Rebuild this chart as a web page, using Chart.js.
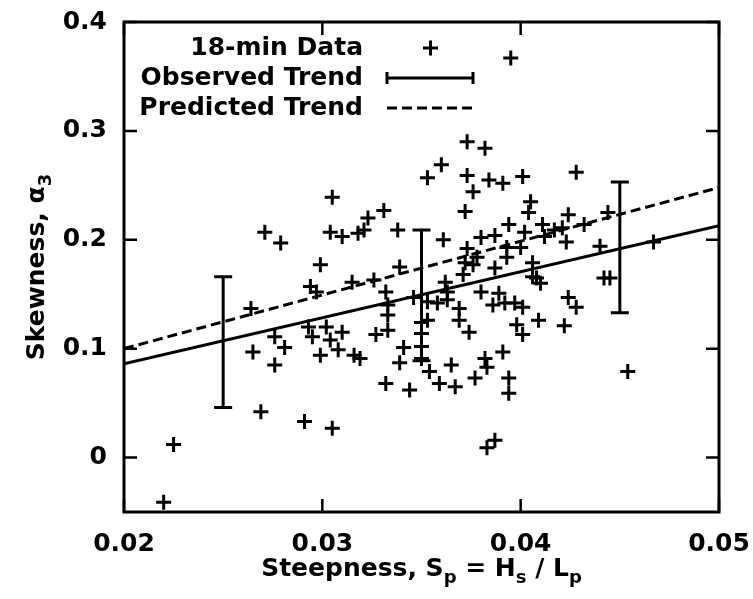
<!DOCTYPE html>
<html>
<head>
<meta charset="utf-8">
<script src="https://cdn.jsdelivr.net/npm/chart.js@4.4.0/dist/chart.umd.min.js"></script>
<style>
  html, body { margin: 0; padding: 0; background: #fff; }
  #grafico { display: block; }
</style>
</head>
<body>
<canvas id="grafico" width="753" height="599"></canvas>
<script>
// 18-min data (steepness Sp, skewness a3)
const steepness = [
  0.0395, 0.0373, 0.0382, 0.0360, 0.0353, 0.0373, 0.0384, 0.0391, 0.0401, 0.0428,
  0.0376, 0.0305, 0.0331, 0.0323, 0.0372, 0.0405, 0.0404, 0.0271, 0.0279, 0.0304,
  0.0310, 0.0321, 0.0338, 0.0361, 0.0394, 0.0387, 0.0380, 0.0402, 0.0411, 0.0412,
  0.0417, 0.0424, 0.0421, 0.0423, 0.0432, 0.0444, 0.0440, 0.0467, 0.0373, 0.0378,
  0.0372, 0.0371, 0.0376, 0.0393, 0.0400, 0.0393, 0.0406, 0.0408, 0.0387, 0.0339,
  0.0299, 0.0315, 0.0326, 0.0332, 0.0333, 0.0333, 0.0333, 0.0294, 0.0297, 0.0264,
  0.0362, 0.0363, 0.0346, 0.0353, 0.0358, 0.0363, 0.0380, 0.0389, 0.0386, 0.0392,
  0.0397, 0.0401, 0.0369, 0.0369, 0.0374, 0.0353, 0.0350, 0.0350, 0.0350, 0.0409,
  0.0398, 0.0401, 0.0424, 0.0428, 0.0422, 0.0442, 0.0445, 0.0406, 0.0410, 0.0391,
  0.0382, 0.0383, 0.0365, 0.0354, 0.0377, 0.0359, 0.0367, 0.0394, 0.0394, 0.0454,
  0.0383, 0.0387, 0.0339, 0.0332, 0.0344, 0.0341, 0.0327, 0.0310, 0.0293, 0.0295,
  0.0302, 0.0304, 0.0276, 0.0281, 0.0265, 0.0276, 0.0299, 0.0308, 0.0316, 0.0319,
  0.0269, 0.0291, 0.0305, 0.0225, 0.0220, 0.0318, 0.0350
]
const skewness = [
  0.367, 0.290, 0.284, 0.269, 0.257, 0.259, 0.255, 0.252, 0.258, 0.262,
  0.244, 0.239, 0.227, 0.220, 0.226, 0.235, 0.225, 0.207, 0.197, 0.207,
  0.203, 0.209, 0.209, 0.200, 0.214, 0.204, 0.202, 0.207, 0.214, 0.203,
  0.209, 0.223, 0.211, 0.198, 0.214, 0.225, 0.194, 0.198, 0.192, 0.184,
  0.179, 0.168, 0.177, 0.193, 0.193, 0.184, 0.179, 0.165, 0.174, 0.175,
  0.177, 0.161, 0.163, 0.152, 0.140, 0.131, 0.117, 0.157, 0.152, 0.137,
  0.161, 0.152, 0.147, 0.143, 0.142, 0.145, 0.152, 0.151, 0.140, 0.142,
  0.142, 0.138, 0.137, 0.126, 0.115, 0.126, 0.114, 0.102, 0.091, 0.126,
  0.122, 0.113, 0.147, 0.138, 0.121, 0.165, 0.165, 0.166, 0.160, 0.097,
  0.091, 0.083, 0.085, 0.079, 0.073, 0.068, 0.065, 0.073, 0.059, 0.079,
  0.009, 0.016, 0.087, 0.068, 0.062, 0.101, 0.113, 0.115, 0.120, 0.111,
  0.120, 0.108, 0.111, 0.101, 0.097, 0.085, 0.094, 0.099, 0.094, 0.091,
  0.042, 0.033, 0.027, 0.012, -0.041, 0.206, 0.124
]

// trends
const trendX = [0.02, 0.05]
const observedY = [0.086, 0.213]
const predictedY = [0.100, 0.248]

// error bars on observed trend
const errX = [0.025, 0.035, 0.045]
const errLow = [0.046, 0.089, 0.133]
const errHigh = [0.166, 0.209, 0.253]

const xTicks = [0.02, 0.03, 0.04, 0.05]
const yTicks = [0, 0.1, 0.2, 0.3, 0.4]
const legendLabels = ['18-min Data', 'Observed Trend', 'Predicted Trend']

const fonte = '"DejaVu Sans", sans-serif'

function fmt(v) {
    return String(Math.round(v * 100) / 100)
}

// draws text pieces, some of them as subscripts
function textoSub(ctx, partes, x, y) {
    let larg = 0
    partes.forEach(p => {
        ctx.font = p[1] ? 'bold 18px ' + fonte : 'bold 25px ' + fonte
        larg += ctx.measureText(p[0]).width
    })
    let cx = x - larg / 2
    partes.forEach(p => {
        ctx.font = p[1] ? 'bold 18px ' + fonte : 'bold 25px ' + fonte
        ctx.fillText(p[0], cx, p[1] ? y + 7 : y)
        cx += ctx.measureText(p[0]).width
    })
}

const extras = {
    id: 'extras',
    afterDatasetsDraw(chart) {
        const ctx = chart.ctx
        const a = chart.chartArea
        const xs = chart.scales.x
        const ys = chart.scales.y
        ctx.save()
        ctx.strokeStyle = '#000'
        ctx.fillStyle = '#000'
        ctx.lineCap = 'butt'

        // error bars
        ctx.lineWidth = 3
        errX.forEach((v, i) => {
            const px = xs.getPixelForValue(v)
            const lo = ys.getPixelForValue(errLow[i])
            const hi = ys.getPixelForValue(errHigh[i])
            ctx.beginPath()
            ctx.moveTo(px, lo); ctx.lineTo(px, hi)
            ctx.moveTo(px - 9, lo); ctx.lineTo(px + 9, lo)
            ctx.moveTo(px - 9, hi); ctx.lineTo(px + 9, hi)
            ctx.stroke()
        })

        // frame
        ctx.lineWidth = 3
        ctx.strokeRect(a.left, a.top, a.right - a.left, a.bottom - a.top)

        // inward ticks, mirrored
        ctx.lineWidth = 2.5
        ctx.beginPath()
        xTicks.forEach(v => {
            const px = xs.getPixelForValue(v)
            ctx.moveTo(px, a.bottom); ctx.lineTo(px, a.bottom - 13)
            ctx.moveTo(px, a.top); ctx.lineTo(px, a.top + 13)
        })
        yTicks.forEach(v => {
            const py = ys.getPixelForValue(v)
            ctx.moveTo(a.left, py); ctx.lineTo(a.left + 13, py)
            ctx.moveTo(a.right, py); ctx.lineTo(a.right - 13, py)
        })
        ctx.stroke()

        // legend
        ctx.font = 'bold 25px ' + fonte
        ctx.textAlign = 'right'
        ctx.textBaseline = 'middle'
        const linhas = [48, 78, 108]
        legendLabels.forEach((t, i) => ctx.fillText(t, 363, linhas[i]))
        ctx.lineWidth = 3
        ctx.beginPath()
        ctx.moveTo(423, 48); ctx.lineTo(438, 48)
        ctx.moveTo(430.5, 40.5); ctx.lineTo(430.5, 55.5)
        ctx.stroke()
        ctx.beginPath()
        ctx.moveTo(387, 78); ctx.lineTo(473, 78)
        ctx.moveTo(387, 72); ctx.lineTo(387, 84)
        ctx.moveTo(473, 72); ctx.lineTo(473, 84)
        ctx.stroke()
        ctx.setLineDash([10, 5])
        ctx.beginPath()
        ctx.moveTo(387, 108); ctx.lineTo(473, 108)
        ctx.stroke()
        ctx.setLineDash([])

        // axis titles
        ctx.textAlign = 'left'
        ctx.textBaseline = 'alphabetic'
        textoSub(ctx, [['Steepness, S', 0], ['p', 1], [' = H', 0], ['s', 1], [' / L', 0], ['p', 1]],
            (a.left + a.right) / 2, 576)
        ctx.save()
        ctx.translate(44, (a.top + a.bottom) / 2)
        ctx.rotate(-Math.PI / 2)
        textoSub(ctx, [['Skewness, α', 0], ['3', 1]], 0, 0)
        ctx.restore()

        ctx.restore()
    }
}

const ctx = document.getElementById('grafico').getContext('2d')

new Chart(ctx, {
    type: 'scatter',
    data: {
        datasets: [{
            label: legendLabels[0],
            data: steepness.map((x, i) => ({ x: x, y: skewness[i] })),
            pointStyle: 'cross',
            pointRadius: 7.5,
            pointBorderWidth: 3,
            borderColor: '#000',
            backgroundColor: '#000',
            showLine: false
        }, {
            label: legendLabels[1],
            type: 'line',
            data: trendX.map((x, i) => ({ x: x, y: observedY[i] })),
            borderColor: '#000',
            borderWidth: 3,
            pointRadius: 0
        }, {
            label: legendLabels[2],
            type: 'line',
            data: trendX.map((x, i) => ({ x: x, y: predictedY[i] })),
            borderColor: '#000',
            borderWidth: 3,
            borderDash: [10, 5],
            pointRadius: 0
        }]
    },
    options: {
        responsive: false,
        animation: false,
        devicePixelRatio: 1,
        layout: { padding: { top: 22, right: 34, left: 0, bottom: 0 } },
        plugins: {
            legend: { display: false },
            tooltip: { enabled: false }
        },
        scales: {
            x: {
                type: 'linear',
                min: 0.02,
                max: 0.05,
                afterBuildTicks: s => { s.ticks = xTicks.map(v => ({ value: v })) },
                afterFit: s => {
                    s.height = 87
                    s.paddingLeft = 0
                    s.paddingRight = 0
                },
                grid: { display: false, drawTicks: false },
                border: { display: false },
                ticks: {
                    color: '#000',
                    padding: 17,
                    maxRotation: 0,
                    font: { family: fonte, weight: 'bold', size: 25 },
                    callback: v => fmt(v)
                }
            },
            y: {
                type: 'linear',
                min: -0.05,
                max: 0.4,
                afterBuildTicks: s => { s.ticks = yTicks.map(v => ({ value: v })) },
                afterFit: s => {
                    s.width = 124
                    s.paddingTop = 0
                    s.paddingBottom = 0
                },
                grid: { display: false, drawTicks: false },
                border: { display: false },
                ticks: {
                    color: '#000',
                    padding: 17,
                    font: { family: fonte, weight: 'bold', size: 25 },
                    callback: v => fmt(v)
                }
            }
        }
    },
    plugins: [extras]
})
</script>
</body>
</html>
